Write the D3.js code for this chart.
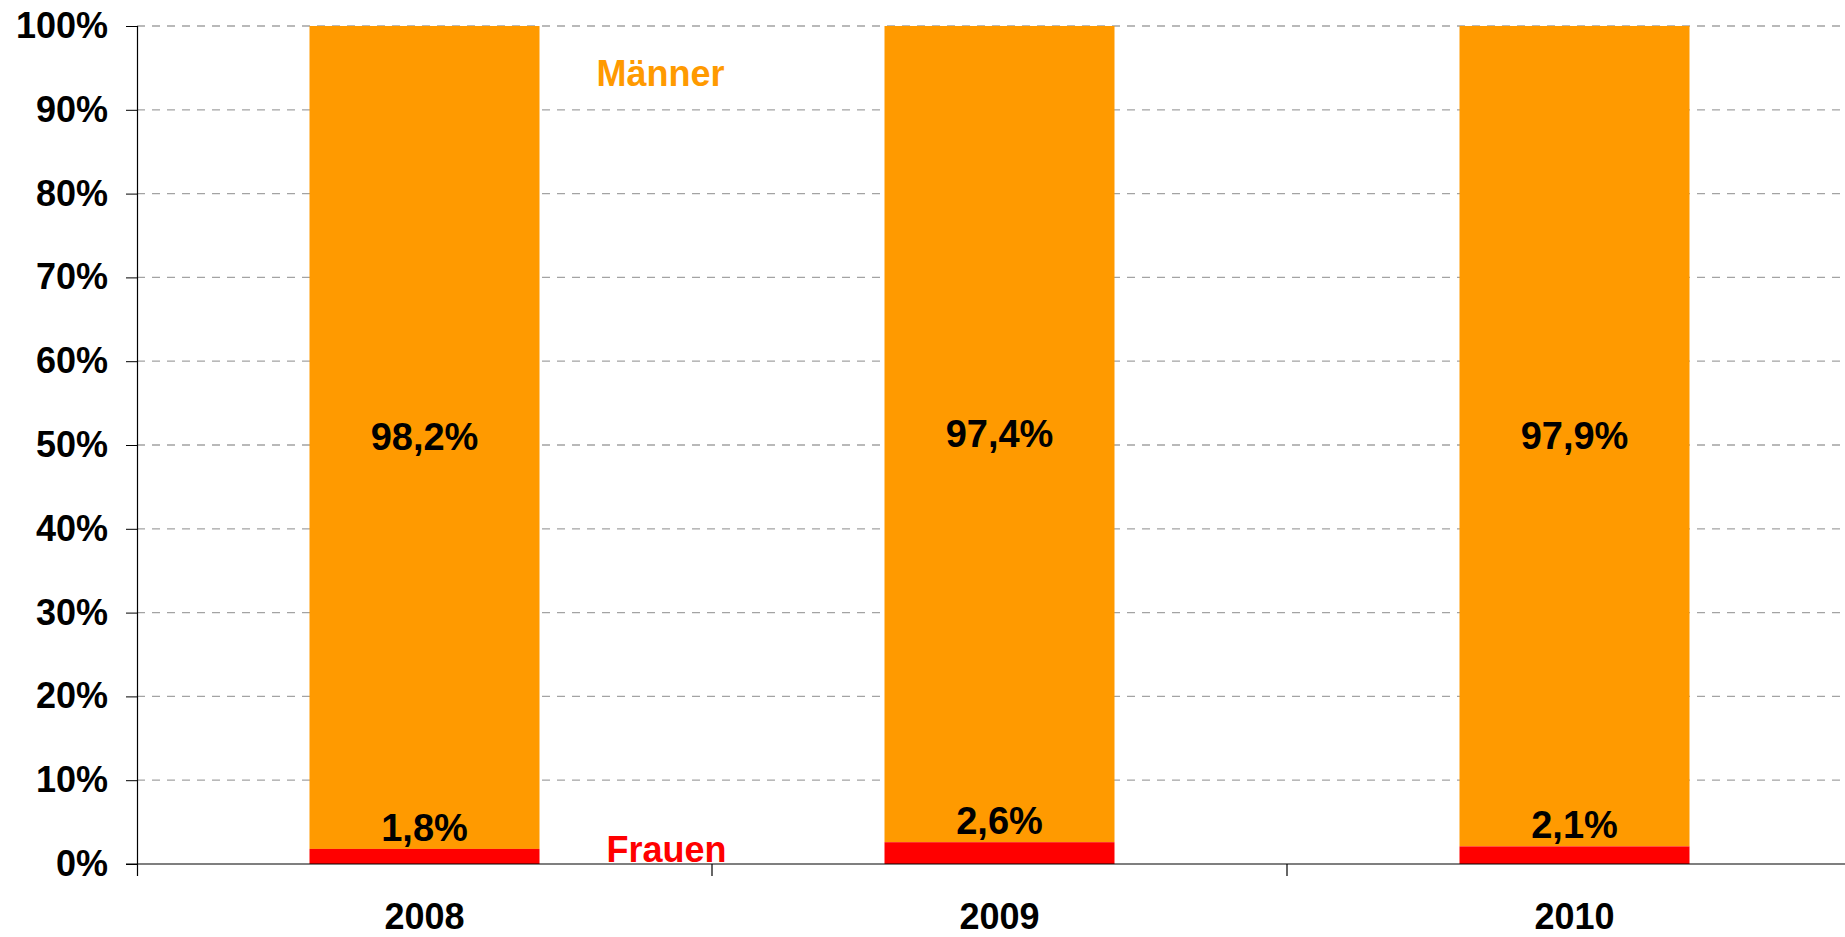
<!DOCTYPE html>
<html>
<head>
<meta charset="utf-8">
<script src="https://cdn.jsdelivr.net/npm/d3@7"></script>
<style>
  html, body { margin: 0; padding: 0; background: #fff; overflow: hidden; }
  svg { display: block; font-family: "Liberation Sans", Arial, sans-serif; font-weight: bold; }
</style>
</head>
<body>
<div id="chart"></div>
<script>
// data
const years = ["2008", "2009", "2010"];
const frauen = [1.8, 2.6, 2.1];
const maenner = [98.2, 97.4, 97.9];
const yTicks = [0, 10, 20, 30, 40, 50, 60, 70, 80, 90, 100];

const w = 1845;
const h = 937;
const plotLeft = 137;
const plotTop = 26;
const plotBottom = 864;
const step = 575;

const svg = d3.select("#chart")
              .append("svg")
              .attr("width", w)
              .attr("height", h);

// scales
const xScale = d3.scaleBand()
                 .domain(years)
                 .range([plotLeft, plotLeft + step * years.length])
                 .paddingInner(0.6)
                 .paddingOuter(0.3);

const yScale = d3.scaleLinear()
                 .domain([0, 100])
                 .range([plotBottom, plotTop]);

const fmt = (v) => String(v).replace(".", ",") + "%";

// dashed gridlines
svg.append("g")
   .selectAll("line")
   .data(yTicks.filter(t => t > 0))
   .enter()
   .append("line")
   .attr("x1", plotLeft)
   .attr("x2", w)
   .attr("y1", d => yScale(d))
   .attr("y2", d => yScale(d))
   .attr("stroke", "#a3a3a3")
   .attr("stroke-width", 1.3)
   .attr("stroke-dasharray", "8,7");

// stacked bars
const stacked = years.map((y, i) => ({ year: y, f: frauen[i], m: maenner[i] }));

svg.selectAll(".bar-m")
   .data(stacked)
   .enter()
   .append("rect")
   .attr("class", "bar-m")
   .attr("x", d => xScale(d.year))
   .attr("width", xScale.bandwidth())
   .attr("y", d => yScale(d.f + d.m))
   .attr("height", d => yScale(d.f) - yScale(d.f + d.m))
   .attr("fill", "#ff9a00");

svg.selectAll(".bar-f")
   .data(stacked)
   .enter()
   .append("rect")
   .attr("class", "bar-f")
   .attr("x", d => xScale(d.year))
   .attr("width", xScale.bandwidth())
   .attr("y", d => yScale(d.f))
   .attr("height", d => yScale(0) - yScale(d.f))
   .attr("fill", "#ff0000");

// y axis
const yAxis = d3.axisLeft(yScale)
                .tickValues(yTicks)
                .tickSize(11)
                .tickPadding(18)
                .tickFormat(d => d + "%");

const gy = svg.append("g")
              .attr("transform", "translate(" + plotLeft + ",0)")
              .call(yAxis);
gy.select(".domain").remove();
gy.selectAll("line").attr("stroke", "#000");
gy.selectAll("text")
  .attr("font-size", 36)
  .attr("font-weight", "bold")
  .attr("font-family", "'Liberation Sans', Arial, sans-serif")
  .attr("fill", "#000");

// vertical axis line
svg.append("line")
   .attr("x1", plotLeft + 0.5)
   .attr("x2", plotLeft + 0.5)
   .attr("y1", yScale(100))
   .attr("y2", yScale(0) + 12)
   .attr("stroke", "#000")
   .attr("stroke-width", 1.2);

// category ticks on x axis
const boundaries = years.slice(1).map(y => xScale(y) - xScale.step() * xScale.paddingInner() / 2);
svg.selectAll(".xtick")
   .data(boundaries)
   .enter()
   .append("line")
   .attr("class", "xtick")
   .attr("x1", d => d)
   .attr("x2", d => d)
   .attr("y1", yScale(0))
   .attr("y2", yScale(0) + 12)
   .attr("stroke", "#000")
   .attr("stroke-width", 1.2);

// zero line
svg.append("line")
   .attr("x1", plotLeft - 11)
   .attr("x2", w)
   .attr("y1", yScale(0))
   .attr("y2", yScale(0))
   .attr("stroke", "#000")
   .attr("stroke-opacity", 0.5)
   .attr("stroke-width", 2);

// year labels
svg.selectAll(".year")
   .data(years)
   .enter()
   .append("text")
   .attr("class", "year")
   .attr("x", d => xScale(d) + xScale.bandwidth() / 2)
   .attr("y", 929)
   .attr("text-anchor", "middle")
   .attr("font-size", 36)
   .attr("fill", "#000")
   .text(d => d);

// value labels
svg.selectAll(".lab-m")
   .data(stacked)
   .enter()
   .append("text")
   .attr("class", "lab-m")
   .attr("x", d => xScale(d.year) + xScale.bandwidth() / 2)
   .attr("y", d => yScale(d.f + d.m / 2) + 13)
   .attr("text-anchor", "middle")
   .attr("font-size", 38)
   .attr("fill", "#000")
   .text(d => fmt(d.m));

svg.selectAll(".lab-f")
   .data(stacked)
   .enter()
   .append("text")
   .attr("class", "lab-f")
   .attr("x", d => xScale(d.year) + xScale.bandwidth() / 2)
   .attr("y", d => yScale(d.f) - 8)
   .attr("text-anchor", "middle")
   .attr("font-size", 38)
   .attr("fill", "#000")
   .text(d => fmt(d.f));

// series names
svg.append("text")
   .attr("x", xScale("2008") + xScale.bandwidth() + 121)
   .attr("y", yScale(92.8))
   .attr("text-anchor", "middle")
   .attr("font-size", 36)
   .attr("fill", "#ff9a00")
   .text("Männer");

svg.append("text")
   .attr("x", xScale("2008") + xScale.bandwidth() + 127)
   .attr("y", yScale(0.2))
   .attr("text-anchor", "middle")
   .attr("font-size", 36)
   .attr("fill", "#ff0000")
   .text("Frauen");
</script>
</body>
</html>
